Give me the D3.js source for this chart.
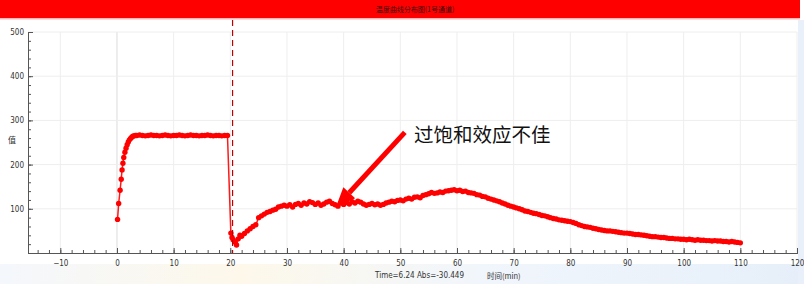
<!DOCTYPE html>
<html>
<head>
<meta charset="utf-8">
<script src="https://cdn.jsdelivr.net/npm/d3@7"></script>
<style>
  body { margin: 0; background: #fff; }
  svg { display: block; }
  .tick-label { font-family: "Liberation Sans Narrow", "DejaVu Sans Condensed", sans-serif; font-size: 8px; fill: #333; }
</style>
</head>
<body>
<div id="chart"></div>
<script>
// rise after injection (min, value)
const riseT = [0.1, 0.3, 0.55, 0.75, 0.9, 1.05, 1.2, 1.4, 1.6, 1.8, 2.0, 2.2, 2.4, 2.6, 2.8, 3.0, 3.25];
const riseV = [76, 112, 142, 167, 188, 203, 216, 228, 237, 245, 251, 256, 259, 262, 264, 265, 266];

// plateau, every 0.5 min from 3.5
const plateauStart = 3.5;
const plateauV = [266, 267, 266, 265, 266, 267, 266, 266, 265, 266, 267, 266, 265, 266, 266, 267,
  266, 265, 266, 267, 266, 266, 265, 266, 266, 267, 266, 265, 266, 266, 265, 266, 266];

// drop and recovery
const dropT = [20.1, 20.3, 20.5, 20.8, 21.1, 21.4, 21.7, 22.0, 22.5, 23.0, 23.5, 24.0, 24.5, 25.0,
  25.5, 26.0, 26.5, 27.0, 27.5, 28.0, 28.5, 29.0, 29.5];
const dropV = [45, 35, 30, 25, 18, 32, 40, 38, 44, 50, 55, 60, 64, 80,
  84, 88, 92, 94, 97, 99, 104, 106, 108];

// slow part, every 0.5 min from 30
const tailStart = 30;
const tailV = [106, 109, 104, 110, 112, 108, 113, 111, 116, 114, 110, 113, 108, 111, 115, 117, 112, 109, 106, 113,
  110, 114, 111, 116, 113, 117, 115, 111, 108, 110, 112, 109, 111, 108, 110, 113, 115, 117, 116, 119,
  120, 118, 122, 124, 122, 126, 127, 125, 130, 132, 134, 137, 135, 136, 138, 137, 140, 141, 142, 143,
  141, 142, 139, 140, 137, 136, 135, 132, 131, 128, 127, 124, 122, 120, 118, 116, 113, 111, 108, 106,
  104, 102, 100, 98, 95, 94, 92, 90, 89, 87, 85, 84, 82, 80, 78, 77, 75, 74, 73, 72,
  71, 69, 67, 64, 62, 60, 59, 58, 56, 55, 53, 52, 51, 50, 50, 49, 48, 47, 46, 45,
  45, 44, 43, 42, 42, 41, 40, 39, 38, 37, 37, 36, 35, 35, 34, 33, 33, 32, 32, 31,
  31, 30, 31, 30, 29, 30, 29, 29, 28, 28, 27, 28, 27, 27, 26, 26, 25, 26, 25, 24, 23];

const xTicks = [-10, 0, 10, 20, 30, 40, 50, 60, 70, 80, 90, 100, 110, 120];
const yTicks = [100, 200, 300, 400, 500];
const markTime = 20.4;

const title = '温度曲线分布图(1号通道)';
const yLabel = '值';
const xLabel = '时间(min)';
const cursorText = 'Time=6.24  Abs=-30.449';
const note = { text: '过饱和效应不佳', tailT: 50.8, tailV: 273, headT: 38.6, headV: 103, textT: 52.4, textV: 252 };

const width = 804, height = 284;
const svg = d3.select('#chart').append('svg').attr('width', width).attr('height', height);

// slide background
const defs = svg.append('defs');
const bg = defs.append('linearGradient').attr('id', 'bgGrad').attr('x1', 0).attr('x2', 1);
bg.append('stop').attr('offset', '0%').attr('stop-color', '#f4f7fc');
bg.append('stop').attr('offset', '30%').attr('stop-color', '#fdf8ea');
bg.append('stop').attr('offset', '60%').attr('stop-color', '#f1f6fc');
bg.append('stop').attr('offset', '100%').attr('stop-color', '#e6eff9');
svg.append('rect').attr('x', 0).attr('y', 264).attr('width', width).attr('height', 20).attr('fill', 'url(#bgGrad)');
svg.append('rect').attr('x', 798).attr('y', 20).attr('width', 6).attr('height', 264).attr('fill', '#e9f0f9');

// title bar
svg.append('rect').attr('x', 0).attr('y', 0).attr('width', 800).attr('height', 18).attr('fill', '#ff0000');
svg.append('rect').attr('x', 0).attr('y', 18).attr('width', 800).attr('height', 1.5).attr('fill', '#f9b6b6');
svg.append('text').attr('x', 415).attr('y', 12).attr('text-anchor', 'middle')
  .style('font-family', '"Noto Sans CJK SC", sans-serif').style('font-size', '7px').attr('fill', '#3a1010')
  .text(title);

const x = d3.scaleLinear().domain([-15.7, 120]).range([28, 797]);
const y = d3.scaleLinear().domain([0, 500]).range([253, 32]);

// grid
const grid = svg.append('g');
grid.selectAll('line.v').data(xTicks).join('line')
  .attr('x1', d => x(d)).attr('x2', d => x(d)).attr('y1', y(500)).attr('y2', y(0))
  .attr('stroke', d => d === 0 ? '#dcdcdc' : '#eeeeee').attr('stroke-width', 1);
grid.selectAll('line.h').data(yTicks).join('line')
  .attr('x1', x.range()[0]).attr('x2', x.range()[1]).attr('y1', d => y(d)).attr('y2', d => y(d))
  .attr('stroke', '#eeeeee').attr('stroke-width', 1);

// axes
const xAxis = svg.append('g').attr('transform', `translate(0,${y(0)})`)
  .call(d3.axisBottom(x).tickValues(d3.range(-14, 121, 2)).tickSize(-3).tickFormat(''));
xAxis.append('g').call(d3.axisBottom(x).tickValues(xTicks).tickSize(-5).tickPadding(7));
xAxis.selectAll('path, line').attr('stroke', '#555');
xAxis.selectAll('text').attr('class', 'tick-label').attr('fill', null);

const yAxis = svg.append('g').attr('transform', `translate(${x.range()[0]},0)`)
  .call(d3.axisLeft(y).tickValues(d3.range(20, 501, 20)).tickSize(-3).tickFormat(''));
yAxis.append('g').call(d3.axisLeft(y).tickValues(yTicks).tickSize(-5).tickPadding(4));
yAxis.selectAll('path, line').attr('stroke', '#555');
yAxis.selectAll('text').attr('class', 'tick-label').attr('fill', null);

svg.append('text').attr('x', 12).attr('y', 143).attr('text-anchor', 'middle')
  .style('font-family', '"Noto Sans CJK SC", sans-serif').style('font-size', '8px').attr('fill', '#333')
  .text(yLabel);
svg.append('text').attr('x', 375).attr('y', 278).attr('class', 'tick-label').text(cursorText);
svg.append('text').attr('x', 487).attr('y', 279)
  .style('font-family', '"Noto Sans CJK SC", sans-serif').style('font-size', '7.5px').attr('fill', '#333')
  .text(xLabel);

// data
const data = [];
riseT.forEach((t, i) => data.push([t, riseV[i]]));
plateauV.forEach((v, i) => data.push([plateauStart + i * 0.5, v]));
dropT.forEach((t, i) => data.push([t, dropV[i]]));
tailV.forEach((v, i) => data.push([tailStart + i * 0.5, v]));

svg.append('path').datum(data)
  .attr('d', d3.line().x(d => x(d[0])).y(d => y(d[1])))
  .attr('fill', 'none').attr('stroke', '#ff1a1a').attr('stroke-width', 1.5);
svg.append('g').selectAll('circle').data(data).join('circle')
  .attr('cx', d => x(d[0])).attr('cy', d => y(d[1])).attr('r', 2.7).attr('fill', '#ff0000');

// injection marker
svg.append('line').attr('x1', x(markTime)).attr('x2', x(markTime)).attr('y1', 20).attr('y2', y(0))
  .attr('stroke', '#c00000').attr('stroke-width', 1.2).attr('stroke-dasharray', '6,4');

// annotation arrow
const x1 = x(note.tailT), y1 = y(note.tailV), x2 = x(note.headT), y2 = y(note.headV);
const ang = Math.atan2(y2 - y1, x2 - x1);
const headLen = 20, headW = 8;
const bx = x2 - headLen * Math.cos(ang), by = y2 - headLen * Math.sin(ang);
svg.append('line').attr('x1', x1).attr('y1', y1).attr('x2', bx).attr('y2', by)
  .attr('stroke', '#ff0000').attr('stroke-width', 5);
svg.append('path')
  .attr('d', `M${x2},${y2}L${bx + headW * Math.sin(ang)},${by - headW * Math.cos(ang)}L${bx - headW * Math.sin(ang)},${by + headW * Math.cos(ang)}Z`)
  .attr('fill', '#ff0000');
svg.append('text').attr('x', x(note.textT)).attr('y', y(note.textV))
  .style('font-family', '"Noto Sans CJK SC", sans-serif').style('font-size', '19.5px').attr('fill', '#111')
  .text(note.text);
</script>
</body>
</html>
